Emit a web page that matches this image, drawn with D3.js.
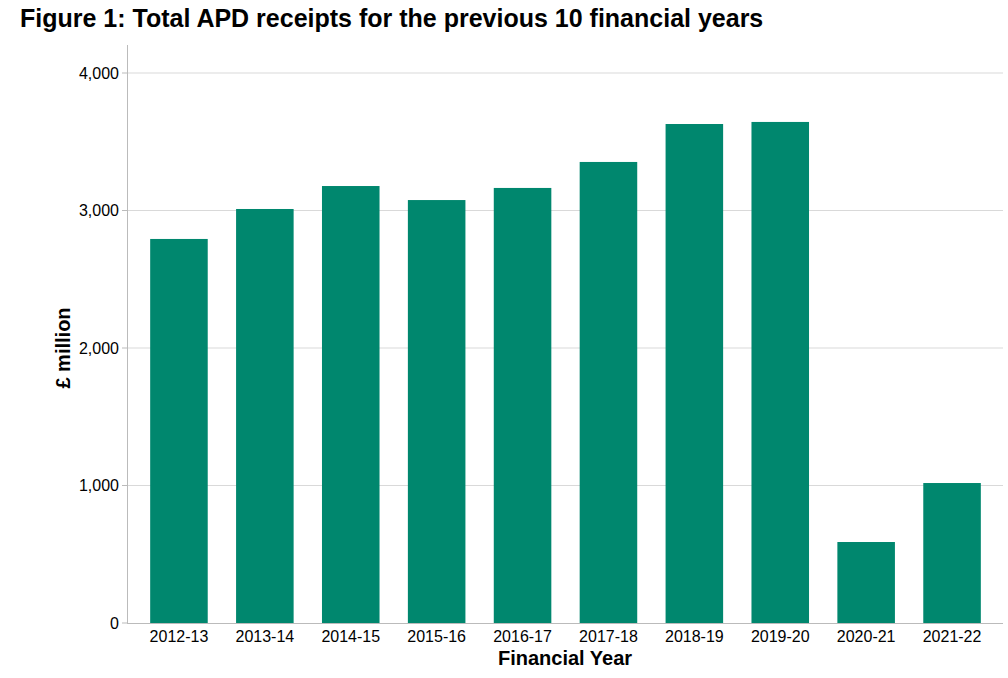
<!DOCTYPE html>
<html><head><meta charset="utf-8">
<script src="https://cdn.jsdelivr.net/npm/d3@7"></script>
<style>body{margin:0;background:#fff}text{font-family:"Liberation Sans",Arial,sans-serif}</style>
</head><body><svg id="c" width="1008" height="678"></svg>
<script>
const categories=["2012-13","2013-14","2014-15","2015-16","2016-17","2017-18","2018-19","2019-20","2020-21","2021-22"];
const values=[2793,3011,3178,3076,3164,3353,3629,3644,589,1018];
const yTicks=[0,1000,2000,3000,4000];
const svg=d3.select("#c");
const x=d3.scaleBand().domain(categories).range([136,995]).paddingInner(0.33).paddingOuter(0.165);
const y=d3.scaleLinear().domain([0,4000]).range([623,73]);
svg.append("text").attr("x",20).attr("y",27).attr("font-size",25).attr("font-weight","bold").text("Figure 1: Total APD receipts for the previous 10 financial years");
svg.append("g").selectAll("line").data(yTicks.slice(1)).join("line")
 .attr("x1",127).attr("x2",1003).attr("y1",d=>y(d)).attr("y2",d=>y(d)).attr("stroke","#d9d9d9");
svg.append("g").selectAll("rect").data(values).join("rect")
 .attr("x",(d,i)=>x(categories[i])).attr("width",x.bandwidth())
 .attr("y",d=>y(d)).attr("height",d=>y(0)-y(d)).attr("fill","#00876e");
svg.append("line").attr("x1",127.5).attr("x2",127.5).attr("y1",45).attr("y2",623).attr("stroke","#bbb");
svg.append("line").attr("x1",127).attr("x2",1003).attr("y1",623.5).attr("y2",623.5).attr("stroke","#bbb");
const yt=svg.append("g");
yt.selectAll("line").data(yTicks).join("line").attr("x1",122).attr("x2",127).attr("y1",d=>y(d)).attr("y2",d=>y(d)).attr("stroke","#bbb");
yt.selectAll("text").data(yTicks).join("text").attr("x",119).attr("y",d=>y(d)).attr("dy","0.35em")
 .attr("text-anchor","end").attr("font-size",16).text(d3.format(","));
svg.append("g").selectAll("text").data(categories).join("text")
 .attr("x",d=>x(d)+x.bandwidth()/2).attr("y",642).attr("text-anchor","middle").attr("font-size",16).text(d=>d);
svg.append("text").attr("x",565).attr("y",665).attr("text-anchor","middle").attr("font-size",20).attr("font-weight","bold").text("Financial Year");
svg.append("text").attr("transform","translate(70,348) rotate(-90)").attr("text-anchor","middle").attr("font-size",20).attr("font-weight","bold").text("£ million");
</script></body></html>
